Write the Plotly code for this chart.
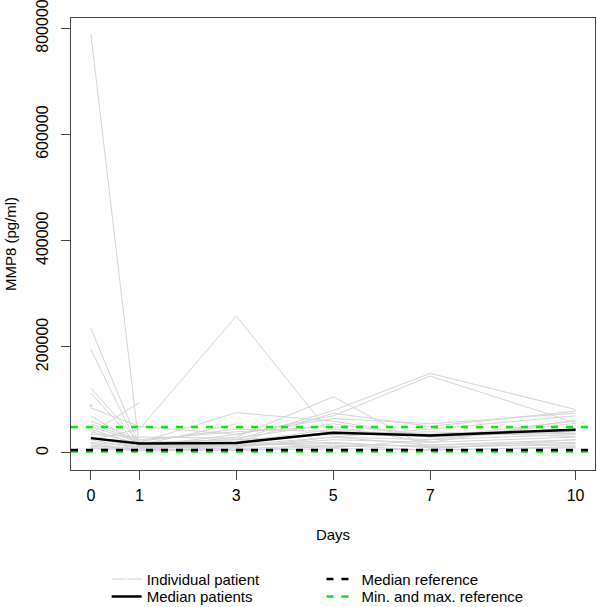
import plotly.graph_objects as go

# ---- data ----
days = [0, 1, 3, 5, 7, 10]
day_labels = ["0", "1", "3", "5", "7", "10"]

patients = [
    [790000, 10000, 15000, 30000, 25000, 35000],
    [235000, 15000, 20000, 45000, 30000, 60000],
    [195000, 8000, 12000, 25000, 20000, 30000],
    [122000, 20000, 25000, 80000, 150000, 82000],
    [113000, 12000, 18000, 40000, 35000, 45000],
    [85000, 50000, 35000, 70000, 145000, 57000],
    [37000, 95000, None, None, None, None],
    [25000, 45000, 258000, 30000, 15000, 20000],
    [50000, 20000, 76000, 60000, 30000, 40000],
    [45000, 15000, 55000, None, None, None],
    [30000, 10000, 30000, 106000, 8000, 25000],
    [25000, 8000, 20000, 75000, 50000, 79000],
    [20000, 12000, 35000, 65000, 55000, 75000],
    [15000, 5000, 10000, 30000, 45000, 70000],
    [60000, 25000, 40000, 50000, 20000, 62000],
    [40000, 18000, 25000, 35000, 40000, 31000],
    [28000, 14000, 15000, 20000, 10000, 18000],
    [18000, 6000, 8000, 15000, 5000, 12000],
    [10000, 4000, 6000, 12000, 15000, 25000],
    [55000, 22000, 45000, 40000, 35000, 37000],
    [35000, 30000, 28000, 55000, 30000, 44000],
    [70000, 16000, 22000, 10000, 25000, 56000],
    [12000, 9000, 14000, 18000, 12000, 15000],
    [8000, 7000, 5000, 8000, 6000, 10000],
    [89000, None, None, None, None, None],
]

median_patients = [28000, 18000, 19000, 38000, 33000, 44000]
median_reference = 5500
min_reference = 3000
max_reference = 49000

y_ticks = [0, 200000, 400000, 600000, 800000]

FONT = "Liberation Sans, Arial, sans-serif"
GRAY = "#d3d3d3"
GREEN = "#00ee00"
DASH = "7px,8px"

fig = go.Figure()

for i, vals in enumerate(patients):
    sizes = []
    for j, v in enumerate(vals):
        left = vals[j - 1] if j > 0 else None
        right = vals[j + 1] if j < len(vals) - 1 else None
        sizes.append(4 if (v is not None and left is None and right is None) else 0)
    fig.add_trace(go.Scatter(
        x=days, y=vals, mode="lines+markers",
        line=dict(color=GRAY, width=1),
        marker=dict(color=GRAY, size=sizes, symbol="square"),
        name="Individual patient", legendgroup="ind",
        showlegend=(i == 0), legend="legend", hoverinfo="skip",
    ))

fig.add_trace(go.Scatter(
    x=days, y=median_patients, mode="lines",
    line=dict(color="black", width=2.5),
    name="Median patients", legend="legend2",
))

# reference lines spanning the whole plot region
fig.add_shape(type="line", xref="x domain", yref="y", x0=0, x1=1,
              y0=min_reference, y1=min_reference,
              line=dict(color=GREEN, width=2.5, dash=DASH),
              showlegend=False)
fig.add_shape(type="line", xref="x domain", yref="y", x0=0, x1=1,
              y0=median_reference, y1=median_reference,
              line=dict(color="black", width=2.5, dash=DASH),
              name="Median reference", showlegend=True, legend="legend3")
fig.add_shape(type="line", xref="x domain", yref="y", x0=0, x1=1,
              y0=max_reference, y1=max_reference,
              line=dict(color=GREEN, width=2.5, dash=DASH),
              name="Min. and max. reference", showlegend=True, legend="legend4")

axis_common = dict(
    showline=True, linecolor="#444444", linewidth=1, mirror=True,
    ticks="outside", ticklen=9, tickcolor="#444444", tickwidth=1,
    showgrid=False, zeroline=False,
    tickfont=dict(family=FONT, size=16, color="black"),
    ticklabeloverflow="allow",
)

ROW1 = -0.2418
ROW2 = -0.2803
LEFTX = 0.068
RIGHTX = 0.478
leg = dict(xanchor="left", yanchor="middle", bgcolor="rgba(0,0,0,0)",
           itemwidth=30, font=dict(family=FONT, size=15))

fig.update_layout(
    width=597, height=607,
    margin=dict(l=71, r=2, t=18, b=137, autoexpand=False),
    paper_bgcolor="white", plot_bgcolor="white",
    font=dict(family=FONT, size=15, color="black"),
    xaxis=dict(range=[-0.41, 10.40], tickvals=days, ticktext=day_labels,
               ticklabelstandoff=2,
               title=dict(text="Days", font=dict(family=FONT, size=15), standoff=26),
               **axis_common),
    yaxis=dict(range=[-32050, 819600], tickvals=y_ticks,
               ticktext=[str(v) for v in y_ticks], tickangle=-90,
               ticklabelstandoff=7,
               title=dict(text="MMP8 (pg/ml)", font=dict(family=FONT, size=15), standoff=13),
               **axis_common),
    legend=dict(x=LEFTX, y=ROW1, **leg),
    legend2=dict(x=LEFTX, y=ROW2, **leg),
    legend3=dict(x=RIGHTX, y=ROW1, **leg),
    legend4=dict(x=RIGHTX, y=ROW2, **leg),
    showlegend=True,
)

fig.write_html("out.html")
